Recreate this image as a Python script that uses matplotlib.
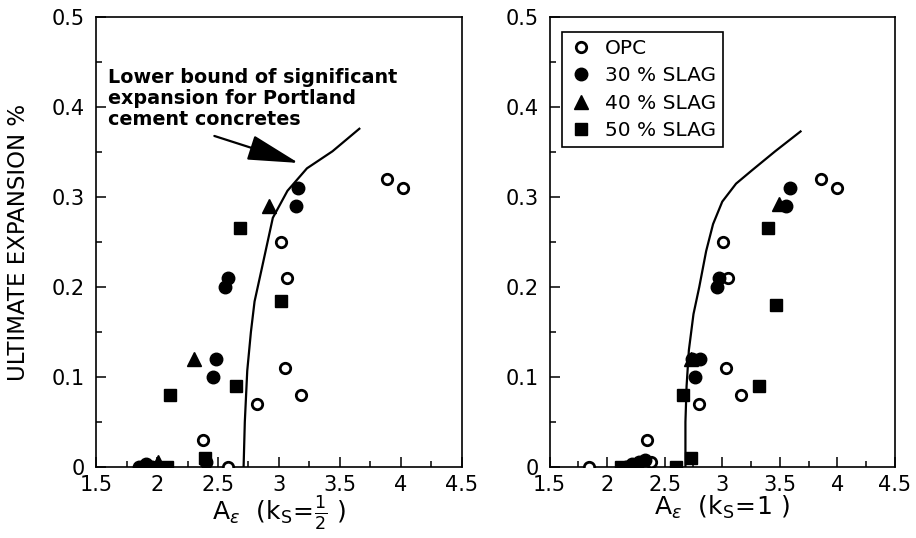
import numpy as np
import matplotlib.pyplot as plt
from matplotlib.ticker import MultipleLocator, FuncFormatter

# ---- datos ----
# panel izquierdo (k_s = 1/2)
opc_x_a = [2.58, 2.38, 2.82, 3.05, 3.18, 3.02, 3.07, 3.89, 4.02]
opc_y_a = [0.0, 0.03, 0.07, 0.11, 0.08, 0.25, 0.21, 0.32, 0.31]
s30_x_a = [1.85, 1.91, 1.96, 2.40, 2.46, 2.48, 2.56, 2.58, 3.14, 3.16]
s30_y_a = [0.0, 0.003, 0.0, 0.005, 0.10, 0.12, 0.20, 0.21, 0.29, 0.31]
s40_x_a = [2.01, 2.30, 2.92]
s40_y_a = [0.005, 0.12, 0.29]
s50_x_a = [2.08, 2.39, 2.11, 2.65, 2.68, 3.02]
s50_y_a = [0.0, 0.01, 0.08, 0.09, 0.266, 0.184]
curva_x_a = [2.71, 2.72, 2.74, 2.77, 2.80, 2.86, 2.95, 3.07, 3.23, 3.44, 3.66]
curva_y_a = [0.0, 0.05, 0.107, 0.15, 0.184, 0.221, 0.277, 0.307, 0.332, 0.351, 0.376]

# panel derecho (k_s = 1)
opc_x_b = [1.84, 2.35, 2.38, 2.80, 3.03, 3.16, 3.01, 3.05, 3.86, 4.00]
opc_y_b = [0.0, 0.03, 0.005, 0.07, 0.11, 0.08, 0.25, 0.21, 0.32, 0.31]
s30_x_b = [2.16, 2.22, 2.28, 2.33, 2.76, 2.74, 2.81, 2.95, 2.97, 3.55, 3.59]
s30_y_b = [0.0, 0.003, 0.005, 0.008, 0.10, 0.12, 0.12, 0.20, 0.21, 0.29, 0.31]
s40_x_b = [2.73, 3.49]
s40_y_b = [0.12, 0.292]
s50_x_b = [2.12, 2.60, 2.73, 2.66, 3.32, 3.47, 3.40]
s50_y_b = [0.0, 0.0, 0.01, 0.08, 0.09, 0.18, 0.266]
curva_x_b = [2.68, 2.68, 2.69, 2.71, 2.75, 2.80, 2.86, 2.92, 3.00, 3.12, 3.26, 3.46, 3.68]
curva_y_b = [0.0, 0.05, 0.09, 0.13, 0.17, 0.20, 0.24, 0.27, 0.295, 0.315, 0.33, 0.351, 0.373]

x_ticks = [1.5, 2, 2.5, 3, 3.5, 4, 4.5]
y_ticks = [0, 0.1, 0.2, 0.3, 0.4, 0.5]
etiquetas = ["OPC", "30 % SLAG", "40 % SLAG", "50 % SLAG"]

# nota y flecha del panel izquierdo
nota = "Lower bound of significant\nexpansion for Portland\ncement concretes"
flecha_desde = (2.47, 0.368)
flecha_hasta = (3.16, 0.338)

plt.rcParams['font.family'] = ['DejaVu Sans']
plt.rcParams['mathtext.fontset'] = 'dejavusans'


def fmt_tick(v, pos):
    return "0" if abs(v) < 1e-9 else f"{v:g}"


def dibujar_panel(ax, series, curva_x, curva_y):
    ms = 8.5
    (ox, oy), (cx, cy), (tx, ty), (sx, sy) = series
    ax.plot(curva_x, curva_y, color='k', lw=1.6, zorder=2)
    ax.plot(ox, oy, 'o', ms=ms - 1, mfc='white', mec='k', mew=2.0, ls='none', zorder=3, label=etiquetas[0])
    ax.plot(cx, cy, 'o', ms=ms + 0.5, color='k', ls='none', zorder=3, label=etiquetas[1])
    ax.plot(tx, ty, '^', ms=ms + 1.5, color='k', ls='none', zorder=3, label=etiquetas[2])
    ax.plot(sx, sy, 's', ms=ms, color='k', ls='none', zorder=3, label=etiquetas[3])

    ax.set_xlim(1.5, 4.5)
    ax.set_ylim(0, 0.5)
    ax.set_xticks(x_ticks)
    ax.set_yticks(y_ticks)
    ax.xaxis.set_minor_locator(MultipleLocator(0.25))
    ax.yaxis.set_minor_locator(MultipleLocator(0.05))
    ax.yaxis.set_major_formatter(FuncFormatter(fmt_tick))
    ax.xaxis.set_major_formatter(FuncFormatter(fmt_tick))
    ax.tick_params(which='both', direction='in', labelsize=15, width=1.1)
    ax.tick_params(axis='y', pad=8)
    ax.tick_params(axis='x', pad=6)
    ax.tick_params(which='major', length=7)
    ax.tick_params(which='minor', length=4)
    for s in ax.spines.values():
        s.set_linewidth(1.2)


fig = plt.figure(figsize=(9.16, 5.38), dpi=100)
ax1 = fig.add_axes([0.105, 0.132, 0.399, 0.836])
ax2 = fig.add_axes([0.600, 0.132, 0.377, 0.836])

dibujar_panel(ax1, [(opc_x_a, opc_y_a), (s30_x_a, s30_y_a), (s40_x_a, s40_y_a), (s50_x_a, s50_y_a)],
              curva_x_a, curva_y_a)
dibujar_panel(ax2, [(opc_x_b, opc_y_b), (s30_x_b, s30_y_b), (s40_x_b, s40_y_b), (s50_x_b, s50_y_b)],
              curva_x_b, curva_y_b)

ax1.set_ylabel("ULTIMATE EXPANSION %", fontsize=16.5)
ax1.yaxis.set_label_coords(-0.18, 0.5)
ax1.set_xlabel(r"$\mathrm{A}_{\epsilon}\ \ (\mathrm{k}_{\mathrm{S}}\!=\!\frac{1}{2}\ )$", fontsize=18)
ax1.xaxis.set_label_coords(0.5, -0.06)
ax2.set_xlabel(r"$\mathrm{A}_{\epsilon}\ \ (\mathrm{k}_{\mathrm{S}}\!=\!1\ )$", fontsize=18)
ax2.xaxis.set_label_coords(0.5, -0.06)

ax1.text(1.60, 0.443, nota, fontsize=13.8, fontweight='bold', va='top', ha='left', linespacing=1.12)
ax1.annotate("", xy=flecha_hasta, xytext=flecha_desde,
             arrowprops=dict(arrowstyle='-|>,head_length=1.6,head_width=0.4', color='k', lw=1.6,
                             mutation_scale=20, shrinkA=0, shrinkB=0))

leg = ax2.legend(loc='upper left', bbox_to_anchor=(0.035, 0.968), fontsize=14.5, frameon=True,
                 fancybox=False, edgecolor='k', framealpha=1, handletextpad=0.6,
                 borderpad=0.35, labelspacing=0.42, handlelength=1.2, borderaxespad=0)
leg.get_frame().set_linewidth(1.2)

fig.savefig("out.png", dpi=100)
